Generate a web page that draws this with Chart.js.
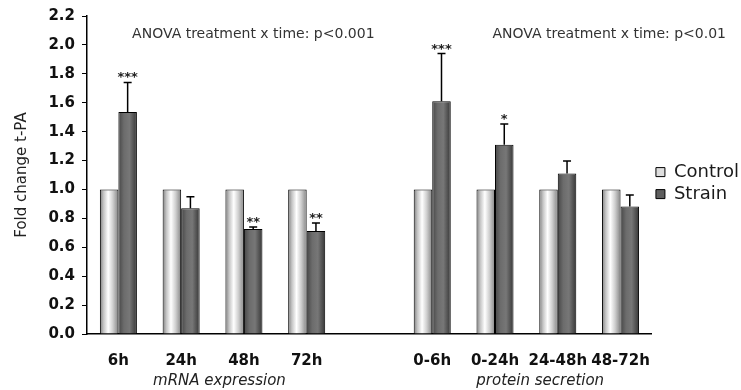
<!DOCTYPE html>
<html>
<head>
<meta charset="utf-8">
<script src="https://cdn.jsdelivr.net/npm/chart.js@4.4.0/dist/chart.umd.min.js"></script>
<style>
  html, body { margin: 0; padding: 0; background: #fff; }
  #wrap { width: 741px; height: 390px; }
</style>
</head>
<body>
<div id="wrap"><canvas id="grafico"></canvas></div>
<script>
// dados
const categorias = ['6h', '24h', '48h', '72h', '', '0-6h', '0-24h', '24-48h', '48-72h'];
const valoresControle = [1, 1, 1, 1, null, 1, 1, 1, 1];
const valoresStrain = [1.535, 0.87, 0.727, 0.713, null, 1.61, 1.31, 1.11, 0.882];
const errosStrain = [0.205, 0.08, 0.013, 0.055, null, 0.33, 0.143, 0.086, 0.08];
const estrelas = ['***', '', '**', '**', '', '***', '*', '', ''];
const ticksY = [0, 0.2, 0.4, 0.6, 0.8, 1.0, 1.2, 1.4, 1.6, 1.8, 2.0, 2.2];
const grupos = ['mRNA expression', 'protein secretion'];
const textosAnova = ['ANOVA treatment x time: p<0.001', 'ANOVA treatment x time: p<0.01'];

const fonte = "'DejaVu Sans', sans-serif";
const catPct = 0.59;

const gradControle = [[0, '#7e7e7e'], [0.2, '#c4c4c4'], [0.45, '#ffffff'], [0.7, '#cfcfcf'], [1, '#858585']];
const gradStrain = [[0, '#474747'], [0.3, '#6c6c6c'], [0.6, '#777777'], [1, '#363636']];

function preenchimento(ctx, stops, fallback) {
  const chart = ctx.chart;
  const x = chart.scales.x;
  if (ctx.dataIndex === undefined || !x) return fallback;
  const meia = (x.width / categorias.length) * catPct / 2;
  const centro = x.getPixelForValue(ctx.dataIndex);
  const esq = ctx.datasetIndex === 0 ? centro - meia : centro;
  const g = chart.ctx.createLinearGradient(esq, 0, esq + meia, 0);
  stops.forEach(([o, c]) => g.addColorStop(o, c));
  return g;
}

const pluginExtras = {
  id: 'extras',
  afterDatasetsDraw(chart) {
    const c = chart.ctx;
    const xs = chart.scales.x;
    const ys = chart.scales.y;
    const meta = chart.getDatasetMeta(1);
    c.save();
    // barras de erro + asteriscos
    meta.data.forEach((bar, i) => {
      if (valoresStrain[i] == null) return;
      const topo = ys.getPixelForValue(valoresStrain[i] + errosStrain[i]);
      c.strokeStyle = '#000';
      c.lineWidth = 1.5;
      c.beginPath();
      c.moveTo(bar.x, bar.y);
      c.lineTo(bar.x, topo);
      c.moveTo(bar.x - 4, topo);
      c.lineTo(bar.x + 4, topo);
      c.stroke();
      if (estrelas[i]) {
        c.fillStyle = '#222';
        c.font = 'bold 13px ' + fonte;
        c.textAlign = 'center';
        c.textBaseline = 'alphabetic';
        c.fillText(estrelas[i], bar.x, topo - 1);
      }
    });
    // textos ANOVA
    c.fillStyle = '#333';
    c.font = '14px ' + fonte;
    c.textAlign = 'center';
    c.textBaseline = 'middle';
    c.fillText(textosAnova[0], xs.getPixelForValue(2.15), ys.getPixelForValue(2.07));
    c.fillText(textosAnova[1], xs.getPixelForValue(7.82), ys.getPixelForValue(2.07));
    // nomes dos grupos
    c.fillStyle = '#222';
    c.font = 'italic 15px ' + fonte;
    c.fillText(grupos[0], xs.getPixelForValue(1.61), xs.top + 47);
    c.fillText(grupos[1], xs.getPixelForValue(6.72), xs.top + 47);
    c.restore();
  }
};

new Chart(document.getElementById('grafico'), {
  type: 'bar',
  data: {
    labels: categorias,
    datasets: [
      {
        label: 'Control',
        data: valoresControle,
        backgroundColor: ctx => preenchimento(ctx, gradControle, '#e0e0e0'),
        borderColor: '#000',
        borderWidth: 1,
        borderSkipped: 'bottom'
      },
      {
        label: 'Strain',
        data: valoresStrain,
        backgroundColor: ctx => preenchimento(ctx, gradStrain, '#5a5a5a'),
        borderColor: '#000',
        borderWidth: 1,
        borderSkipped: 'bottom'
      }
    ]
  },
  options: {
    responsive: true,
    maintainAspectRatio: false,
    animation: false,
    layout: { padding: { top: 14, right: -8, bottom: 0, left: 0 } },
    datasets: { bar: { categoryPercentage: catPct, barPercentage: 1 } },
    plugins: {
      tooltip: { enabled: false },
      legend: {
        position: 'right',
        align: 'center',
        fullSize: false,
        title: { display: true, text: '', font: { size: 1 }, padding: { top: 15, bottom: 0 } },
        labels: {
          boxWidth: 9,
          boxHeight: 9,
          padding: 4,
          color: '#222',
          font: { family: fonte, size: 18 },
          generateLabels: () => [
            { text: 'Control', fillStyle: '#dedede', strokeStyle: '#000', fontColor: '#1a1a1a', lineWidth: 1, datasetIndex: 0 },
            { text: 'Strain', fillStyle: '#5e5e5e', strokeStyle: '#000', fontColor: '#1a1a1a', lineWidth: 1, datasetIndex: 1 }
          ]
        }
      }
    },
    scales: {
      x: {
        afterFit: s => { s.height = 56; },
        grid: { display: true, drawOnChartArea: false, drawTicks: false },
        border: { color: '#000', width: 1.5 },
        ticks: {
          padding: 18,
          maxRotation: 0,
          minRotation: 0,
          autoSkip: false,
          color: '#111',
          font: { family: fonte, size: 15, weight: 'bold' }
        }
      },
      y: {
        min: 0,
        max: 2.2,
        afterFit: s => { s.width = 87; },
        afterBuildTicks: s => { s.ticks = ticksY.map(v => ({ value: v })); },
        grid: { drawOnChartArea: false, drawTicks: true, tickLength: 5, color: '#000' },
        border: { color: '#000', width: 1.5 },
        ticks: {
          padding: 7,
          color: '#111',
          font: { family: fonte, size: 15, weight: 'bold' },
          callback: v => v.toFixed(1)
        },
        title: {
          display: true,
          text: 'Fold change t-PA',
          color: '#222',
          font: { family: fonte, size: 15 },
          padding: { top: 13, bottom: 0 }
        }
      }
    }
  },
  plugins: [pluginExtras]
});
</script>
</body>
</html>
